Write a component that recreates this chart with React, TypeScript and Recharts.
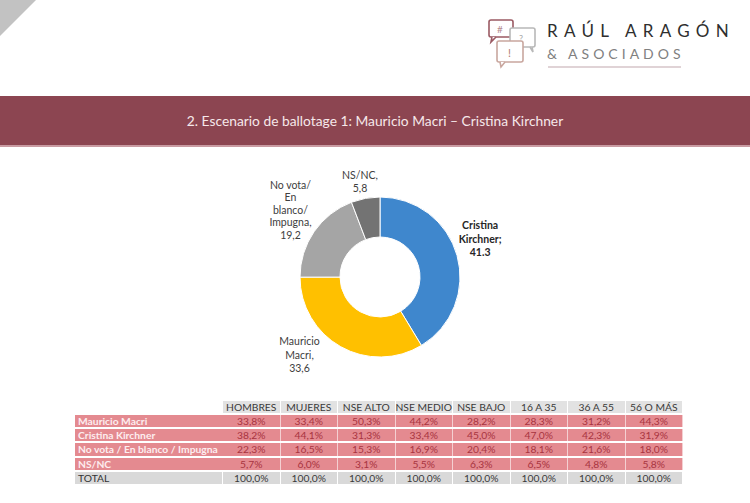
import React from "react";
import { PieChart, Pie, Cell } from "recharts";

// pie data
const SLICE_NAMES = ["Cristina Kirchner", "Mauricio Macri", "No vota/ En blanco/ Impugna", "NS/NC"];
const SLICE_VALUES = [41.3, 33.6, 19.2, 5.8];
const SLICE_LABELS = [
  ["Cristina", "Kirchner;", "41.3"],
  ["Mauricio", "Macri,", "33,6"],
  ["No vota/", "En", "blanco/", "Impugna,", "19,2"],
  ["NS/NC,", "5,8"],
];
const SLICE_COLORS = ["#3F87CD", "#FFC000", "#A5A5A5", "#737373"];

// table data
const COLUMNS = ["HOMBRES", "MUJERES", "NSE ALTO", "NSE MEDIO", "NSE BAJO", "16 A 35", "36 A 55", "56 O MÁS"];
const ROW_NAMES = ["Mauricio Macri", "Cristina Kirchner", "No vota / En blanco / Impugna", "NS/NC"];
const MACRI = [33.8, 33.4, 50.3, 44.2, 28.2, 28.3, 31.2, 44.3];
const CRISTINA = [38.2, 44.1, 31.3, 33.4, 45.0, 47.0, 42.3, 31.9];
const NO_VOTA = [22.3, 16.5, 15.3, 16.9, 20.4, 18.1, 21.6, 18.0];
const NS_NC = [5.7, 6.0, 3.1, 5.5, 6.3, 6.5, 4.8, 5.8];
const TOTAL = [100, 100, 100, 100, 100, 100, 100, 100];
const ROWS = [MACRI, CRISTINA, NO_VOTA, NS_NC];

const FONT = "Lato, 'Open Sans', sans-serif";
const pct = (v: number) => v.toFixed(1).replace(".", ",") + "%";

const data = SLICE_NAMES.map((name, i) => ({ name, value: SLICE_VALUES[i] }));

// excel "best fit" style nudges for the labels
const NUDGE = [[-1, -10], [-29, -14], [-3, -8], [-1, 8]];

const renderLabel = (props: any) => {
  const { cx, cy, midAngle, outerRadius, index } = props;
  const RAD = Math.PI / 180;
  const r = outerRadius + 25;
  const x = cx + r * Math.cos(-midAngle * RAD) + NUDGE[index][0];
  const y = cy + r * Math.sin(-midAngle * RAD) + NUDGE[index][1];
  const lines = SLICE_LABELS[index];
  const lh = lines.length > 3 ? 12.5 : 13.5;
  const y0 = y - ((lines.length - 1) * lh) / 2 + 4;
  return (
    <text
      x={x}
      y={y0}
      textAnchor="middle"
      fill={index === 0 ? "#262626" : "#404040"}
      fontSize={10.5}
      fontWeight={index === 0 ? 700 : 400}
      fontFamily={FONT}
    >
      {lines.map((l, i) => (
        <tspan key={i} x={x} dy={i === 0 ? 0 : lh}>
          {l}
        </tspan>
      ))}
    </text>
  );
};

function Logo() {
  return (
    <svg width={270} height={80} style={{ position: "absolute", left: 480, top: 0 }}>
      <g fill="#fff" strokeWidth={1.6}>
        <rect x={9} y={20} width={24} height={17} rx={2} stroke="#9B5A63" />
        <path d="M12 37 L11 42 L16 37" stroke="#9B5A63" />
        <text x={17} y={33} fontSize={10} fill="#b58a90" stroke="none" fontFamily={FONT}>#</text>
        <rect x={30} y={28} width={25} height={19} rx={2} stroke="#B8B8B8" />
        <path d="M50 47 L53 52 L52 47" stroke="#B8B8B8" />
        <text x={39} y={42} fontSize={9} fill="#aaa" stroke="none" fontFamily={FONT}>?</text>
        <rect x={17} y={41} width={26} height={21} rx={2} stroke="#C9A79F" />
        <path d="M20 62 L21 67 L25 62" stroke="#C9A79F" />
        <text x={28} y={57} fontSize={11} fill="#b07a70" stroke="none" fontFamily={FONT}>!</text>
      </g>
      <text x={67} y={37} fontSize={17} letterSpacing={6.3} fill="#2e2e2e" fontFamily={FONT}>
        RAÚL ARAGÓN
      </text>
      <text x={67} y={59} fontSize={14} letterSpacing={4} fill="#808080" fontFamily={FONT}>
        &amp; ASOCIADOS
      </text>
      <line x1={68} y1={67} x2={201} y2={67} stroke="#d6c4c8" strokeWidth={1.5} />
    </svg>
  );
}

function DataTable() {
  const colW = 57.5;
  const cell: React.CSSProperties = {
    height: 12.3,
    lineHeight: "12.3px",
    fontSize: 10.3,
    textAlign: "center",
    boxSizing: "border-box",
    borderRight: "1px solid rgba(255,255,255,0.6)",
  };
  return (
    <div
      style={{
        position: "absolute",
        left: 75,
        top: 400.5,
        display: "grid",
        gridTemplateColumns: `148px repeat(${COLUMNS.length}, ${colW}px)`,
        rowGap: 2,
        fontFamily: FONT,
      }}
    >
      <div style={{ height: 12.3 }} />
      {COLUMNS.map((c) => (
        <div key={c} style={{ ...cell, background: "#E2E2E2", color: "#3a3a3a", borderRight: "1px solid #fff" }}>
          {c}
        </div>
      ))}
      {ROWS.map((row, r) => (
        <React.Fragment key={r}>
          <div
            style={{
              ...cell,
              textAlign: "left",
              paddingLeft: 3,
              background: "#E48A90",
              color: "#FDEDEF",
              fontWeight: 700,
              borderRight: "none",
            }}
          >
            {ROW_NAMES[r]}
          </div>
          {row.map((v, i) => (
            <div key={i} style={{ ...cell, background: "#E48A90", color: "#A8343F" }}>
              {pct(v)}
            </div>
          ))}
        </React.Fragment>
      ))}
      <div style={{ ...cell, textAlign: "left", paddingLeft: 3, background: "#D9D9D9", color: "#333", borderRight: "1px solid #fff" }}>
        TOTAL
      </div>
      {TOTAL.map((v, i) => (
        <div key={i} style={{ ...cell, background: "#D9D9D9", color: "#3a3a3a", borderRight: "1px solid #fff" }}>
          {pct(v)}
        </div>
      ))}
    </div>
  );
}

export default function App() {
  return (
    <div
      style={{
        position: "absolute",
        left: 0,
        top: 0,
        width: 750,
        height: 503,
        background: "#fff",
        overflow: "hidden",
        fontFamily: FONT,
      }}
    >
      <svg width={40} height={40} style={{ position: "absolute", left: 0, top: 0 }}>
        <polygon points="0,0 36,0 0,36" fill="#C2C2C2" />
      </svg>
      <Logo />
      <div
        style={{
          position: "absolute",
          left: 0,
          top: 96,
          width: 750,
          height: 49,
          background: "#8C4551",
          borderBottom: "2px solid #c99ba2",
          color: "#F6E8EA",
          fontSize: 13.8,
          lineHeight: "49px",
          textAlign: "center",
        }}
      >
        2. Escenario de ballotage 1: Mauricio Macri – Cristina Kirchner
      </div>
      <div style={{ position: "absolute", left: 230, top: 157 }}>
        <PieChart width={300} height={240} margin={{ top: 0, right: 0, bottom: 0, left: 0 }}>
          <Pie
            data={data}
            dataKey="value"
            nameKey="name"
            cx={150}
            cy={120}
            innerRadius={40}
            outerRadius={80}
            startAngle={90}
            endAngle={-270}
            stroke="#fff"
            strokeWidth={1}
            label={renderLabel}
            labelLine={false}
            isAnimationActive={false}
          >
            {data.map((d, i) => (
              <Cell key={d.name} fill={SLICE_COLORS[i]} />
            ))}
          </Pie>
        </PieChart>
      </div>
      <DataTable />
    </div>
  );
}
